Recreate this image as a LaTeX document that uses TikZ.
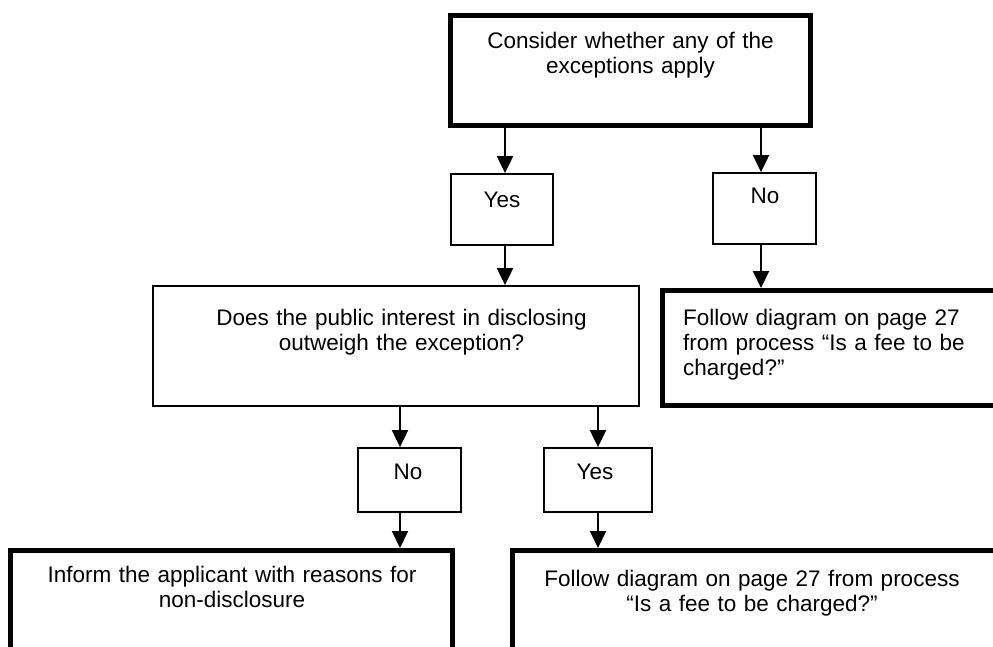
\documentclass[tikz,border=0pt]{standalone}
\usepackage{fontspec}
\setmainfont{Liberation Sans}
\usetikzlibrary{arrows.meta}
\begin{document}
\begin{tikzpicture}[x=1pt,y=-1pt,
  thickbox/.style={draw, line width=5pt, inner sep=0pt},
  thinbox/.style={draw, line width=1.8pt, inner sep=0pt},
  txt/.style={inner sep=0pt, font=\fontsize{22.5}{25}\selectfont, align=center, anchor=north, text width=420pt},
  ltxt/.style={inner sep=0pt, font=\fontsize{22.5}{25}\selectfont, align=left, anchor=north west, text width=320pt},
  arr/.style={line width=2pt, -{Triangle[length=17pt,width=16pt]}}]
\useasboundingbox (0,0) rectangle (993,646);
\clip (0,0) rectangle (993,646);
% boxes
\node[thickbox, minimum width=360pt, minimum height=110pt] (top) at (630.5,70.5) {};
\node[thinbox, minimum width=102pt, minimum height=71pt] (yes1) at (502,209.5) {};
\node[thinbox, minimum width=103pt, minimum height=71pt] (no1) at (764.5,208.5) {};
\node[thinbox, minimum width=486pt, minimum height=120pt] (mid) at (396,346) {};
\node[thickbox, minimum width=337.5pt, minimum height=115pt] (right1) at (831.25,348) {};
\node[thinbox, minimum width=103pt, minimum height=64pt] (no2) at (409.5,480) {};
\node[thinbox, minimum width=108pt, minimum height=64pt] (yes2) at (598,480) {};
\node[thickbox, minimum width=442pt, minimum height=129.5pt] (bl) at (231.5,615.25) {};
\node[thickbox, minimum width=482.5pt, minimum height=129.5pt] (br) at (753.75,615.25) {};
% texts
\node[txt] (ttop) at (630.5,30.5) {\strut Consider whether any of the\\exceptions apply};
\node[txt] (tyes1) at (502,189.5) {\strut Yes};
\node[txt] (tno1) at (765,185.5) {\strut No};
\node[txt] (tmid) at (401.5,307.5) {\strut Does the public interest in disclosing\\outweigh the exception?};
\node[ltxt] (tright1) at (683,307.5) {\strut Follow diagram on page 27\\from process “Is a fee to be\\charged?”};
\node[txt] (tno2) at (408,461.5) {\strut No};
\node[txt] (tyes2) at (595,461.5) {\strut Yes};
\node[txt] (tbl) at (232,564.5) {\strut Inform the applicant with reasons for\\non-disclosure};
\node[txt] (tbr) at (752,568.5) {\strut Follow diagram on page 27 from process\\“Is a fee to be charged?”};
% arrows
\draw[arr] ([xshift=3pt]yes1.north |- top.south) -- ([xshift=3pt]yes1.north);
\draw[arr] ([xshift=-3.5pt]no1.north |- top.south) -- ([xshift=-3.5pt]no1.north);
\draw[arr] ([xshift=3pt]yes1.south) -- ([xshift=3pt]yes1.south |- mid.north);
\draw[arr] ([xshift=-3.5pt]no1.south) -- ([xshift=-3.5pt]no1.south |- right1.north);
\draw[arr] ([xshift=-9.5pt]no2.north |- mid.south) -- ([xshift=-9.5pt]no2.north);
\draw[arr] (yes2.north |- mid.south) -- (yes2.north);
\draw[arr] ([xshift=-9.5pt]no2.south) -- ([xshift=-9.5pt]no2.south |- bl.north);
\draw[arr] (yes2.south) -- (yes2.south |- br.north);
\end{tikzpicture}
\end{document}
